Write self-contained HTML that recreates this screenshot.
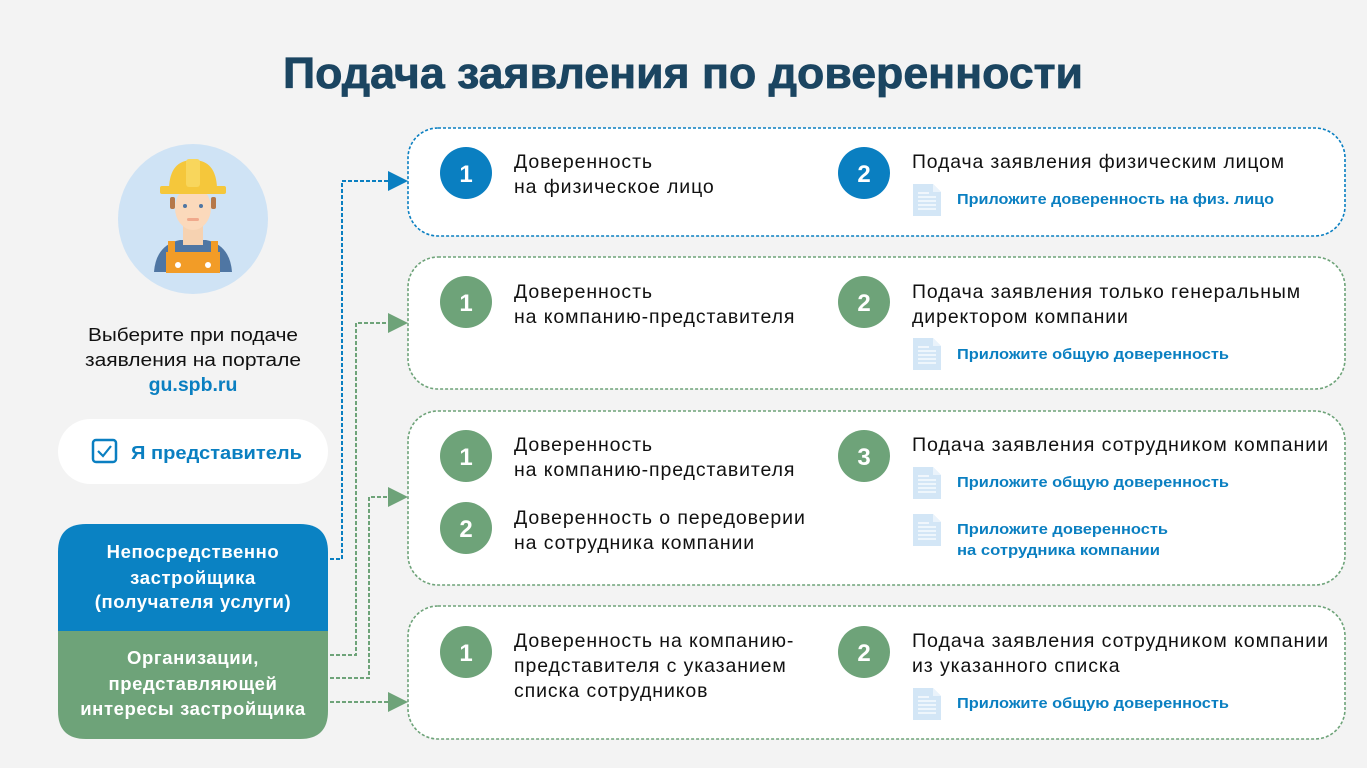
<!DOCTYPE html>
<html><head><meta charset="utf-8"><style>
html,body{margin:0;padding:0;background:#f3f3f3;}
svg{display:block;}
text{font-family:"Liberation Sans",sans-serif;}
.t{font-size:19.5px;fill:#111;letter-spacing:0.9px;}
.l{font-size:15px;font-weight:bold;fill:#0a7fc1;}
.n{font-size:24px;font-weight:bold;fill:#fff;}
.w{font-size:18.5px;font-weight:bold;fill:#fff;letter-spacing:0.6px;}
</style></head><body>
<svg width="1367" height="768" viewBox="0 0 1367 768" xmlns="http://www.w3.org/2000/svg">
<defs>
<g id="doc">
<path d="M0 0 H20 L28 8 V32 H0 Z" fill="#d3e6f6"/>
<path d="M20 0 V8 H28 Z" fill="#eaf3fb"/>
<g stroke="#fff" stroke-width="1.3">
<line x1="5" y1="9" x2="16" y2="9"/><line x1="5" y1="13" x2="23" y2="13"/><line x1="5" y1="17" x2="23" y2="17"/><line x1="5" y1="21" x2="23" y2="21"/><line x1="5" y1="25" x2="23" y2="25"/>
</g>
</g>
</defs>
<rect width="1367" height="768" fill="#f3f3f3"/>
<text x="683" y="88" text-anchor="middle" font-size="44" font-weight="bold" fill="#1b4561" stroke="#1b4561" stroke-width="0.8" textLength="800" lengthAdjust="spacingAndGlyphs">Подача заявления по доверенности</text>

<!-- avatar -->
<circle cx="193" cy="219" r="75" fill="#cfe3f5"/>
<path d="M154 272 Q156 245 180 240 H206 Q230 245 232 272 Z" fill="#4f76a3"/>
<rect x="183" y="225" width="20" height="20" fill="#f6d2b1"/>
<rect x="166" y="252" width="54" height="21" fill="#f29c27"/>
<rect x="168" y="241" width="7" height="13" fill="#f29c27"/><rect x="211" y="241" width="7" height="13" fill="#f29c27"/>
<circle cx="178" cy="265" r="3" fill="#fff"/><circle cx="208" cy="265" r="3" fill="#fff"/>
<ellipse cx="193" cy="208" rx="18" ry="22" fill="#fbd9bb"/>
<rect x="170" y="197" width="5" height="12" rx="2" fill="#b5784a"/><rect x="211" y="197" width="5" height="12" rx="2" fill="#b5784a"/>
<circle cx="185" cy="206" r="2" fill="#4f76a3"/><circle cx="201" cy="206" r="2" fill="#4f76a3"/>
<rect x="187" y="218" width="12" height="3" rx="1.5" fill="#f0a98c"/>
<path d="M169 188 Q170 160 193 160 Q216 160 217 188 Z" fill="#f5c73b"/>
<rect x="160" y="186" width="66" height="8" rx="2" fill="#f5c73b"/>
<rect x="186" y="159" width="14" height="28" rx="3" fill="#f8d65c"/>

<text x="193" y="341" text-anchor="middle" font-size="18.5" fill="#111" textLength="210" lengthAdjust="spacingAndGlyphs">Выберите при подаче</text>
<text x="193" y="366" text-anchor="middle" font-size="18.5" fill="#111" textLength="216" lengthAdjust="spacingAndGlyphs">заявления на портале</text>
<text x="193" y="391" text-anchor="middle" font-size="19.5" font-weight="bold" fill="#0a7fc1">gu.spb.ru</text>

<rect x="58" y="419" width="270" height="65" rx="32.5" fill="#fff"/>
<rect x="93" y="440" width="23" height="22" rx="3" fill="none" stroke="#0a7fc1" stroke-width="2.5"/>
<path d="M98 451 L103 456 L111 446" fill="none" stroke="#0a7fc1" stroke-width="2.2"/>
<text x="131" y="459" font-size="18.5" font-weight="bold" fill="#0a7fc1" textLength="171" lengthAdjust="spacingAndGlyphs">Я представитель</text>

<path d="M58 631 V552 Q58 524 86 524 H300 Q328 524 328 552 V631 Z" fill="#0a82c3"/>
<path d="M58 631 V711 Q58 739 86 739 H300 Q328 739 328 711 V631 Z" fill="#6ea379"/>
<text x="193" y="558" text-anchor="middle" class="w">Непосредственно</text>
<text x="193" y="584" text-anchor="middle" class="w">застройщика</text>
<text x="193" y="608" text-anchor="middle" class="w">(получателя услуги)</text>
<text x="193" y="664" text-anchor="middle" class="w">Организации,</text>
<text x="193" y="690" text-anchor="middle" class="w">представляющей</text>
<text x="193" y="715" text-anchor="middle" class="w">интересы застройщика</text>

<!-- connectors -->
<g fill="none" stroke-width="2" stroke-dasharray="4 2">
<path d="M330 559 H342 V181 H390" stroke="#0a7fc1"/>
<path d="M330 655 H356 V323 H390" stroke="#6ea379"/>
<path d="M330 678 H369 V497 H390" stroke="#6ea379"/>
<path d="M330 702 H390" stroke="#6ea379"/>
</g>
<path d="M388 171 L408 181 L388 191 Z" fill="#0a7fc1"/>
<path d="M388 313 L408 323 L388 333 Z" fill="#6ea379"/>
<path d="M388 487 L408 497 L388 507 Z" fill="#6ea379"/>
<path d="M388 692 L408 702 L388 712 Z" fill="#6ea379"/>

<!-- boxes -->
<rect x="408" y="128" width="937" height="108" rx="30" fill="#fff" stroke="#0a7fc1" stroke-width="1.6" stroke-dasharray="3 2"/>
<rect x="408" y="257" width="937" height="132" rx="30" fill="#fff" stroke="#6ea379" stroke-width="1.6" stroke-dasharray="3 2"/>
<rect x="408" y="411" width="937" height="174" rx="30" fill="#fff" stroke="#6ea379" stroke-width="1.6" stroke-dasharray="3 2"/>
<rect x="408" y="606" width="937" height="133" rx="30" fill="#fff" stroke="#6ea379" stroke-width="1.6" stroke-dasharray="3 2"/>

<!-- row 1 -->
<circle cx="466" cy="173" r="26" fill="#0a7fc1"/><text x="466" y="182" text-anchor="middle" class="n">1</text>
<text x="514" y="168" class="t">Доверенность</text><text x="514" y="193" class="t">на физическое лицо</text>
<circle cx="864" cy="173" r="26" fill="#0a7fc1"/><text x="864" y="182" text-anchor="middle" class="n">2</text>
<text x="912" y="168" class="t" textLength="373" lengthAdjust="spacingAndGlyphs">Подача заявления физическим лицом</text>
<use href="#doc" x="913" y="184"/><text x="957" y="204" class="l" textLength="317" lengthAdjust="spacingAndGlyphs">Приложите доверенность на физ. лицо</text>

<!-- row 2 -->
<circle cx="466" cy="302" r="26" fill="#6ea379"/><text x="466" y="311" text-anchor="middle" class="n">1</text>
<text x="514" y="298" class="t">Доверенность</text><text x="514" y="323" class="t">на компанию-представителя</text>
<circle cx="864" cy="302" r="26" fill="#6ea379"/><text x="864" y="311" text-anchor="middle" class="n">2</text>
<text x="912" y="298" class="t" textLength="389" lengthAdjust="spacingAndGlyphs">Подача заявления только генеральным</text>
<text x="912" y="323" class="t">директором компании</text>
<use href="#doc" x="913" y="338"/><text x="957" y="359" class="l" textLength="272" lengthAdjust="spacingAndGlyphs">Приложите общую доверенность</text>

<!-- row 3 -->
<circle cx="466" cy="456" r="26" fill="#6ea379"/><text x="466" y="465" text-anchor="middle" class="n">1</text>
<text x="514" y="451" class="t">Доверенность</text><text x="514" y="476" class="t">на компанию-представителя</text>
<circle cx="466" cy="528" r="26" fill="#6ea379"/><text x="466" y="537" text-anchor="middle" class="n">2</text>
<text x="514" y="524" class="t">Доверенность о передоверии</text><text x="514" y="549" class="t">на сотрудника компании</text>
<circle cx="864" cy="456" r="26" fill="#6ea379"/><text x="864" y="465" text-anchor="middle" class="n">3</text>
<text x="912" y="451" class="t" textLength="417" lengthAdjust="spacingAndGlyphs">Подача заявления сотрудником компании</text>
<use href="#doc" x="913" y="467"/><text x="957" y="487" class="l" textLength="272" lengthAdjust="spacingAndGlyphs">Приложите общую доверенность</text>
<use href="#doc" x="913" y="514"/><text x="957" y="534" class="l" textLength="211" lengthAdjust="spacingAndGlyphs">Приложите доверенность</text><text x="957" y="555" class="l" textLength="203" lengthAdjust="spacingAndGlyphs">на сотрудника компании</text>

<!-- row 4 -->
<circle cx="466" cy="652" r="26" fill="#6ea379"/><text x="466" y="661" text-anchor="middle" class="n">1</text>
<text x="514" y="647" class="t">Доверенность на компанию-</text><text x="514" y="672" class="t">представителя с указанием</text><text x="514" y="697" class="t">списка сотрудников</text>
<circle cx="864" cy="652" r="26" fill="#6ea379"/><text x="864" y="661" text-anchor="middle" class="n">2</text>
<text x="912" y="647" class="t" textLength="417" lengthAdjust="spacingAndGlyphs">Подача заявления сотрудником компании</text>
<text x="912" y="672" class="t">из указанного списка</text>
<use href="#doc" x="913" y="688"/><text x="957" y="708" class="l" textLength="272" lengthAdjust="spacingAndGlyphs">Приложите общую доверенность</text>
</svg>
</body></html>
